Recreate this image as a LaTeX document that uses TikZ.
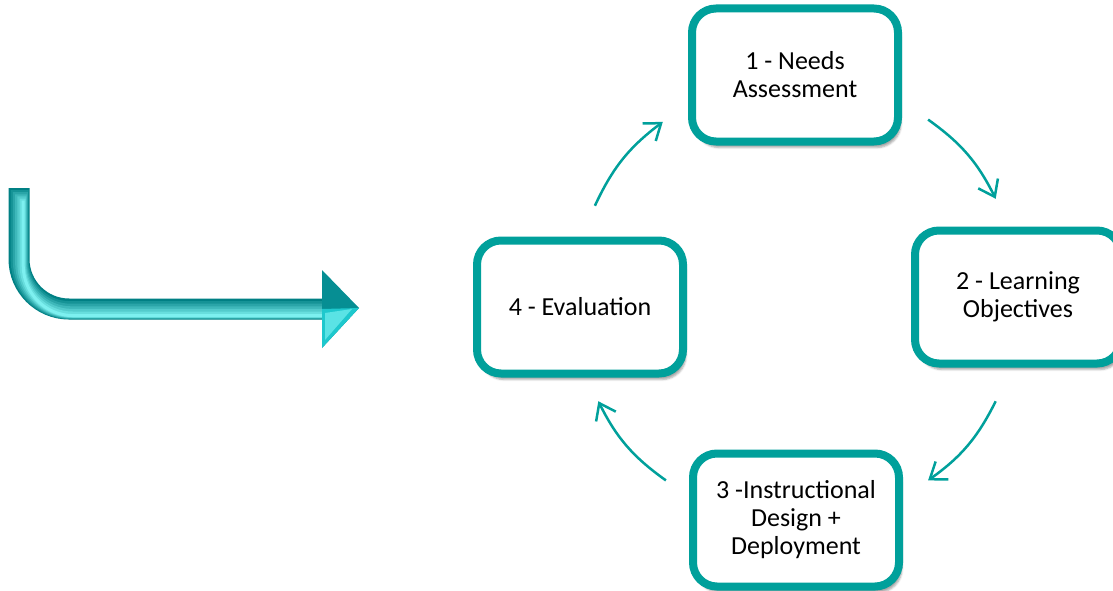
\documentclass[tikz,border=0pt]{standalone}
\usepackage{fontspec}
\setmainfont{Carlito}
\usetikzlibrary{arrows.meta,calc,shadows.blur}
\definecolor{tealline}{RGB}{0,160,155}
\definecolor{tubedark}{RGB}{0,128,132}
\definecolor{tubemid}{RGB}{30,200,205}
\definecolor{tubelight}{RGB}{130,245,245}
\tikzset{
  stage/.style={draw=tealline, line width=8pt, rounded corners=24pt, fill=white,
    minimum width=206pt, minimum height=133pt, align=center,
    font=\fontsize{26}{28}\selectfont,
    blur shadow={shadow xshift=3pt, shadow yshift=-6pt, shadow opacity=35}},
  cyclearrow/.style={draw=tealline, line width=2.5pt, -{Straight Barb[length=15pt,width=22pt]}}
}

\begin{document}
\begin{tikzpicture}[x=1pt,y=1pt]
        \useasboundingbox (0,0) rectangle (1113,-591);
        \begin{scope}
          \def\bendr{50}
          \foreach \k in {0,...,6} {
            \pgfmathsetmacro\w{21-3*\k}
            \pgfmathsetmacro\p{int(16*\k)}
            \draw[tubelight!\p!tubedark, line width=\w pt, shift={(0.7*\k,-1.1*\k)}]
              (19,-188-\k) -- (19,-259) arc[start angle=180, end angle=270, radius=\bendr] -- (325-\k,-309);
          }
          \fill[tubedark!80!tubemid] (322,-270) -- (359,-308) -- (322,-348) -- cycle;
          \fill[tubemid] (322,-309) -- (359,-308) -- (322,-348) -- cycle;
          \fill[tubelight!60!tubemid] (325,-313) -- (352,-309) -- (325,-340) -- cycle;
        \end{scope}
        \node[stage] (needs) at (795,-75) {1 - Needs\\Assessment};
        \node[stage] (objectives) at (1018,-297) {2 - Learning\\Objectives};
        \node[stage] (design) at (796,-520) {3 -Instructional\\Design +\\Deployment};
        \node[stage] (evaluation) at (580,-307) {4 - Evaluation};
        \begin{scope}
          \def\rad{223}
          \coordinate (hub) at (797,-300);
          \foreach \s/\e [count=\i] in {54/27, -27/-54, -126/-153, 155/127} {
            \coordinate (from\i) at ($(hub)+(\s:\rad)$);
            \coordinate (to\i) at ($(hub)+(\e:\rad)$);
            \draw[cyclearrow] (from\i) to[bend left=14] (to\i);
          }
        \end{scope}
      \end{tikzpicture}
\end{document}
